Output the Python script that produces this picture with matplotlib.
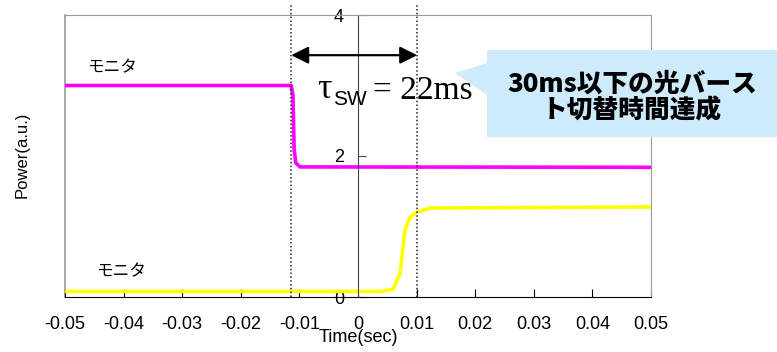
import matplotlib
matplotlib.use("Agg")
import matplotlib.pyplot as plt
from matplotlib.patches import Polygon

plt.rcParams["font.family"] = ["Liberation Sans", "Noto Sans CJK JP", "DejaVu Sans"]

# ── Data ─────────────────────────────────────────────────────────────────────
monitor_t = [-0.05, -0.0114, -0.0111, -0.0109, -0.0106, -0.0099, 0.05]
monitor_p = [3.00, 3.00, 2.86, 2.09, 1.90, 1.845, 1.84]

burst_t = [-0.05, 0.0040, 0.0060, 0.0072, 0.0080, 0.0089, 0.0101, 0.0123, 0.05]
burst_p = [0.08, 0.08, 0.11, 0.34, 0.95, 1.135, 1.205, 1.262, 1.277]

t_off = -0.0114   # dotted marker, switch-off
t_on = 0.0101     # dotted marker, switch-on

x_ticks = [-0.05, -0.04, -0.03, -0.02, -0.01, 0, 0.01, 0.02, 0.03, 0.04, 0.05]
x_labels = ["-0.05", "-0.04", "-0.03", "-0.02", "-0.01", "0",
            "0.01", "0.02", "0.03", "0.04", "0.05"]
y_ticks = [0, 2, 4]

W, H = 777, 352


def fx(px):
    return px / W


def fy(py):
    return 1 - py / H


# ── Figure ───────────────────────────────────────────────────────────────────
fig = plt.figure(figsize=(7.77, 3.52), dpi=100)
ax = fig.add_axes([fx(65), fy(297), 586 / W, 282 / H])
ax.set_xlim(-0.05, 0.05)
ax.set_ylim(0, 4)

ax.plot(monitor_t, monitor_p, color="#ff00ff", linewidth=2.6)
ax.plot(burst_t, burst_p, color="#ffff00", linewidth=2.6)

# frame
for side in ["top", "right"]:
    ax.spines[side].set_color("#999999")
ax.spines["bottom"].set_color("black")
ax.spines["left"].set_position(("data", 0))
ax.spines["left"].set_color("#444444")
ax.plot([-0.05, -0.05], [0, 4], color="#999999", linewidth=1.2,
        clip_on=False, zorder=1)

ax.set_xticks(x_ticks)
ax.set_xticklabels(x_labels)
ax.set_yticks(y_ticks)
ax.tick_params(axis="x", direction="in", length=6, pad=14, labelsize=13, color="black")
ax.tick_params(axis="y", direction="in", length=6, pad=10, labelsize=13, color="#444444")

# dotted switch markers
for tv in [t_off, t_on]:
    ax.plot([tv, tv], [0, 4.14], color="#222222", linestyle=(0, (1, 1.5)),
            linewidth=1.1, clip_on=False)

# switching-time arrow
ax.annotate("", xy=(t_on, 3.43), xytext=(t_off, 3.43),
            arrowprops=dict(arrowstyle="<|-|>", mutation_scale=26, lw=1.6,
                            color="black", shrinkA=0, shrinkB=0))
serif = ["Liberation Serif", "DejaVu Serif"]
fig.text(fx(317), fy(98), "τ", fontsize=26, family=serif, va="baseline")
fig.text(fx(333), fy(105), "SW", fontsize=15, family=["Liberation Sans"], va="baseline")
fig.text(fx(373), fy(99), "= 22ms", fontsize=24, family=serif, va="baseline")

# trace labels
ax.text(-0.0462, 3.25, "モニタ", fontsize=12, family=["Noto Sans CJK JP"],
        va="center")
ax.text(-0.0447, 0.36, "モニタ", fontsize=12, family=["Noto Sans CJK JP"],
        va="center")

fig.text(fx(358), fy(338), "Time(sec)", fontsize=13, ha="center", va="center")
fig.text(fx(22), fy(155), "Power(a.u.)", fontsize=12, rotation=90,
         ha="center", va="center")

# callout bubble
fig.patches.append(Polygon([(fx(487), fy(50)), (fx(777), fy(50)),
                            (fx(777), fy(137)), (fx(487), fy(137)),
                            (fx(487), fy(95)), (fx(455), fy(73)),
                            (fx(487), fy(63))],
                           closed=True, facecolor="#cdebfb", edgecolor="none",
                           transform=fig.transFigure, zorder=5))
fig.text(fx(632), fy(97), "30ms以下の光バース\nト切替時間達成",
         fontsize=18.5, fontweight="heavy", family=["Noto Sans CJK JP"],
         ha="center", va="center", linespacing=1.05, zorder=6)

fig.savefig("out.png", dpi=100)
